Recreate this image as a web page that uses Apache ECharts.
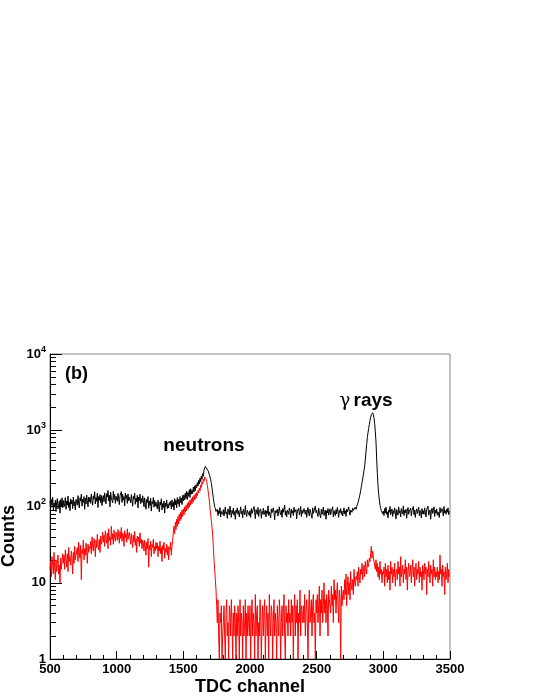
<!DOCTYPE html>
<html>
<head>
<meta charset="utf-8">
<title>TDC spectrum</title>
<script src="https://cdn.jsdelivr.net/npm/echarts@6/dist/echarts.min.js"></script>
<style>
  html, body { margin: 0; padding: 0; background: #fff; }
  #main { width: 540px; height: 699px; }
</style>
</head>
<body>
<div id="main"></div>
<script>
  // histogram binning: one value every 5 TDC channels, starting at 500
  var firstChannel = 500;
  var binWidth = 5;

  // black: all events (one row = 100 channels)
  var allCounts = [
    117, 95, 124, 103, 132, 89, 111, 98, 121, 86, 114, 127, 93, 105, 119, 82, 123, 101, 130, 96,
    120, 99, 109, 131, 92, 118, 104, 137, 97, 115, 88, 126, 108, 121, 94, 133, 102, 116, 90, 124,
    127, 104, 139, 111, 96, 130, 118, 145, 101, 124, 113, 135, 92, 128, 108, 141, 119, 99, 133, 115,
    132, 110, 146, 119, 104, 138, 125, 156, 108, 131, 117, 149, 97, 135, 121, 143, 112, 140, 103, 128,
    139, 115, 151, 126, 108, 147, 133, 162, 118, 141, 99, 154, 129, 137, 112, 158, 124, 145, 110, 136,
    142, 117, 149, 124, 106, 138, 131, 157, 113, 144, 121, 135, 102, 150, 127, 140, 110, 146, 119, 133,
    131, 112, 143, 118, 101, 136, 125, 149, 107, 129, 115, 140, 96, 133, 120, 145, 109, 127, 113, 138,
    121, 99, 130, 106, 92, 124, 113, 135, 95, 118, 103, 128, 87, 116, 109, 131, 98, 120, 101, 114,
    112, 93, 121, 99, 85, 115, 104, 126, 90, 109, 97, 118, 82, 111, 100, 122, 94, 107, 96, 113,
    104, 118, 93, 122, 99, 115, 90, 127, 105, 121, 96, 131, 108, 124, 100, 135, 112, 129, 106, 140,
    118, 142, 122, 150, 127, 158, 124, 153, 136, 166, 131, 171, 145, 163, 148, 180, 155, 186, 161, 193,
    175, 206, 186, 220, 197, 236, 210, 251, 228, 270, 250, 300, 285, 335, 350, 330, 322, 296, 290, 262,
    250, 228, 200, 175, 150, 128, 112, 100, 94, 86, 82, 92, 76, 88, 81, 97, 73, 86, 90, 79,
    91, 75, 87, 98, 80, 85, 70, 93, 83, 78, 101, 84, 72, 89, 81, 95, 77, 86, 68, 90,
    83, 96, 79, 88, 73, 85, 99, 80, 87, 71, 92, 84, 78, 103, 82, 74, 89, 86, 94, 76,
    88, 72, 94, 81, 86, 77, 100, 83, 69, 91, 85, 79, 97, 74, 87, 82, 93, 70, 86, 80,
    95, 78, 84, 90, 73, 87, 81, 102, 76, 85, 89, 71, 93, 83, 79, 96, 84, 67, 88, 82,
    80, 92, 75, 86, 99, 83, 78, 89, 72, 94, 84, 81, 104, 77, 87, 73, 90, 85, 79, 96,
    86, 71, 93, 82, 88, 76, 98, 84, 80, 91, 69, 87, 83, 95, 78, 86, 100, 74, 89, 81,
    77, 94, 85, 79, 90, 72, 87, 97, 82, 75, 92, 84, 88, 70, 96, 81, 85, 78, 101, 83,
    89, 80, 74, 95, 84, 87, 71, 92, 79, 86, 98, 76, 83, 90, 68, 88, 82, 94, 77, 85,
    93, 78, 86, 82, 99, 73, 88, 84, 76, 91, 80, 97, 85, 72, 89, 83, 94, 79, 87, 75,
    84, 96, 80, 88, 74, 92, 85, 81, 99, 86, 77, 90, 88, 84, 95, 89, 93, 87, 98, 92,
    100, 104, 112, 118, 132, 145, 162, 182, 205, 230, 260, 295, 340, 420, 520, 650, 800, 930, 1050, 1200,
    1350, 1480, 1600, 1680, 1700, 1600, 1450, 1220, 950, 700, 420, 270, 190, 145, 122, 104, 96, 88, 92, 80,
    87, 76, 94, 82, 98, 79, 85, 71, 90, 84, 100, 78, 86, 93, 74, 88, 81, 96, 83, 69,
    91, 84, 77, 99, 82, 88, 73, 94, 85, 80, 102, 76, 89, 83, 92, 70, 86, 97, 79, 87,
    82, 95, 75, 88, 84, 100, 78, 90, 72, 86, 93, 81, 85, 98, 76, 89, 83, 71, 94, 80,
    88, 79, 96, 84, 73, 91, 86, 101, 77, 83, 90, 68, 87, 95, 81, 85, 99, 74, 89, 82,
    93, 77, 85, 90, 72, 97, 83, 80, 94, 86, 75, 100, 82, 88, 79, 92, 84, 96, 78, 87
  ];

  // red: after cut (zero-count bins sit on the bottom of the log axis)
  var cutCounts = [
    15, 19, 12, 22, 17, 13, 25, 16, 11, 20, 14, 18, 23, 13, 17, 10, 21, 15, 19, 24,
    18, 23, 15, 27, 20, 16, 24, 14, 29, 19, 22, 17, 26, 21, 13, 25, 18, 30, 20, 23,
    22, 29, 19, 34, 25, 21, 31, 11, 27, 24, 36, 20, 28, 23, 33, 26, 18, 32, 25, 30,
    28, 35, 24, 40, 30, 26, 38, 33, 22, 36, 29, 43, 31, 27, 37, 25, 41, 32, 35, 46,
    34, 42, 30, 48, 38, 33, 45, 28, 51, 36, 40, 31, 55, 37, 44, 32, 49, 39, 35, 46,
    43, 36, 50, 40, 33, 47, 38, 53, 35, 45, 41, 30, 48, 39, 44, 34, 51, 37, 42, 46,
    39, 32, 44, 36, 29, 42, 34, 47, 31, 38, 25, 41, 35, 40, 30, 45, 33, 37, 28, 36,
    33, 26, 36, 30, 23, 34, 28, 38, 16, 31, 27, 35, 22, 32, 29, 37, 24, 30, 26, 34,
    28, 33, 22, 30, 26, 35, 24, 29, 19, 31, 27, 34, 21, 28, 25, 32, 23, 30, 20, 29,
    27, 34, 23, 31, 36, 46, 55, 44, 62, 50, 68, 55, 74, 59, 79, 65, 84, 69, 90, 74,
    93, 78, 99, 84, 104, 88, 110, 93, 115, 98, 121, 104, 127, 109, 134, 115, 140, 122, 147, 128,
    152, 138, 162, 150, 175, 160, 192, 178, 210, 196, 228, 214, 245, 236, 230, 212, 190, 165, 140, 118,
    95, 80, 65, 54, 42, 30, 20, 15, 11, 8, 5, 3, 6, 2, 1, 4, 3, 5, 1, 2,
    3, 5, 2, 1, 4, 6, 2, 3, 1, 5, 4, 2, 6, 3, 1, 4, 2, 5, 3, 1,
    4, 2, 5, 3, 1, 6, 2, 4, 3, 1, 5, 2, 3, 6, 1, 4, 2, 5, 3, 2,
    5, 1, 3, 6, 2, 4, 3, 1, 7, 2, 4, 5, 1, 3, 2, 6, 4, 1, 3, 5,
    2, 4, 6, 1, 3, 5, 2, 4, 1, 7, 3, 2, 5, 4, 1, 3, 6, 2, 4, 3,
    1, 5, 3, 2, 6, 4, 1, 3, 5, 2, 4, 7, 2, 1, 5, 3, 4, 2, 6, 3,
    4, 2, 6, 3, 5, 1, 4, 7, 2, 5, 3, 6, 1, 4, 3, 8, 2, 5, 4, 3,
    5, 3, 7, 2, 4, 6, 3, 1, 5, 8, 3, 4, 6, 2, 5, 7, 3, 4, 1, 6,
    4, 7, 3, 5, 9, 2, 6, 4, 8, 3, 5, 10, 4, 6, 3, 7, 5, 2, 8, 6,
    6, 4, 9, 5, 7, 3, 11, 6, 8, 4, 7, 10, 5, 3, 8, 6, 1, 9, 5, 7,
    8, 6, 11, 7, 13, 5, 9, 12, 7, 10, 6, 14, 9, 8, 11, 7, 15, 10, 9, 12,
    11, 14, 9, 16, 12, 10, 15, 13, 18, 11, 14, 17, 12, 19, 15, 13, 20, 16, 18, 21,
    19, 24, 30, 21, 26, 22, 19, 17, 15, 20, 14, 18, 12, 16, 11, 19, 13, 15, 10, 14,
    13, 16, 9, 18, 12, 15, 10, 17, 11, 14, 8, 19, 13, 16, 10, 15, 12, 18, 9, 14,
    15, 11, 19, 13, 16, 9, 22, 12, 14, 17, 10, 15, 13, 20, 11, 16, 8, 14, 18, 12,
    13, 17, 10, 15, 20, 12, 16, 9, 14, 18, 11, 15, 13, 19, 10, 16, 12, 14, 8, 17,
    14, 11, 18, 13, 16, 7, 15, 12, 19, 14, 10, 17, 13, 15, 9, 20, 12, 16, 11, 14,
    12, 16, 10, 14, 11, 23, 13, 15, 9, 17, 12, 14, 7, 16, 11, 13, 18, 10, 15, 12
  ];

  // log axis minor ticks (2..9 in every decade)
  var minorTickValues = [
    2, 3, 4, 5, 6, 7, 8, 9,
    20, 30, 40, 50, 60, 70, 80, 90,
    200, 300, 400, 500, 600, 700, 800, 900,
    2000, 3000, 4000, 5000, 6000, 7000, 8000, 9000
  ];

  function toPoints(arr) {
    var pts = [];
    for (var i = 0; i < arr.length; i++) {
      pts.push([firstChannel + i * binWidth, arr[i]]);
    }
    return pts;
  }

  var font = 'Liberation Sans, Arial, Helvetica, sans-serif';
  var chart = echarts.init(document.getElementById('main'));

  chart.setOption({
    animation: false,
    backgroundColor: '#fff',
    grid: {
      left: 50, right: 90, top: 354, bottom: 40,
      show: true, borderColor: '#888', borderWidth: 1, backgroundColor: 'transparent'
    },
    xAxis: {
      type: 'value',
      min: 500, max: 3500, interval: 500,
      name: 'TDC channel',
      nameLocation: 'middle',
      nameGap: 19,
      nameTextStyle: { fontFamily: font, fontWeight: 'bold', fontSize: 18, color: '#000' },
      axisLine: { lineStyle: { color: '#000', width: 1 } },
      axisTick: { inside: true, length: 8, lineStyle: { color: '#000' } },
      minorTick: { show: true, splitNumber: 5, length: 4, lineStyle: { color: '#000' } },
      axisLabel: {
        fontFamily: font, fontWeight: 'bold', fontSize: 13, color: '#000', margin: 4,
        formatter: function (v) { return String(v); }
      },
      splitLine: { show: false }
    },
    yAxis: [
      {
        type: 'log', logBase: 10,
        min: 1, max: 10000,
        position: 'left',
        axisLine: { show: true, lineStyle: { color: '#000', width: 1 } },
        axisTick: { show: true, inside: true, length: 12, lineStyle: { color: '#000' } },
        axisLabel: {
          margin: 4,
          color: '#000',
          formatter: function (v) {
            if (v < 100) return '{b|' + v + '}';
            return '{b|10}{s|' + Math.round(Math.log(v) / Math.LN10) + '}';
          },
          rich: {
            b: { fontFamily: font, fontWeight: 'bold', fontSize: 13, color: '#000' },
            s: { fontFamily: font, fontWeight: 'bold', fontSize: 9, color: '#000', padding: [0, 0, 9, 0] }
          }
        },
        splitLine: { show: false }
      },
      {
        // minor ticks only
        type: 'log', logBase: 10,
        min: 1, max: 10000,
        position: 'left',
        axisLine: { show: false },
        axisTick: { show: true, inside: true, length: 6, customValues: minorTickValues, lineStyle: { color: '#000' } },
        axisLabel: { show: false },
        splitLine: { show: false }
      }
    ],
    series: [
      {
        name: 'all',
        type: 'line',
        data: toPoints(allCounts),
        showSymbol: false,
        symbol: 'none',
        lineStyle: { color: '#000', width: 1 },
        z: 2
      },
      {
        name: 'cut',
        type: 'line',
        data: toPoints(cutCounts),
        showSymbol: false,
        symbol: 'none',
        lineStyle: { color: '#ff0000', width: 1 },
        z: 3
      }
    ],
    graphic: [
      {
        type: 'text', x: 9, y: 536, rotation: Math.PI / 2,
        style: { text: 'Counts', font: 'bold 18px ' + font, fill: '#000', align: 'center', verticalAlign: 'middle' }
      },
      {
        type: 'text', x: 65, y: 374,
        style: { text: '(b)', font: 'bold 18px ' + font, fill: '#000', align: 'left', verticalAlign: 'middle' }
      },
      {
        type: 'text', x: 204, y: 446,
        style: { text: 'neutrons', font: 'bold 19px ' + font, fill: '#000', align: 'center', verticalAlign: 'middle' }
      },
      {
        type: 'text', x: 366, y: 401,
        style: {
          text: '{g|γ} {r|rays}',
          align: 'center', verticalAlign: 'middle',
          rich: {
            g: { fontFamily: 'DejaVu Serif, serif', fontSize: 18, fill: '#000' },
            r: { fontFamily: font, fontWeight: 'bold', fontSize: 19, fill: '#000' }
          }
        }
      }
    ]
  });
</script>
</body>
</html>
